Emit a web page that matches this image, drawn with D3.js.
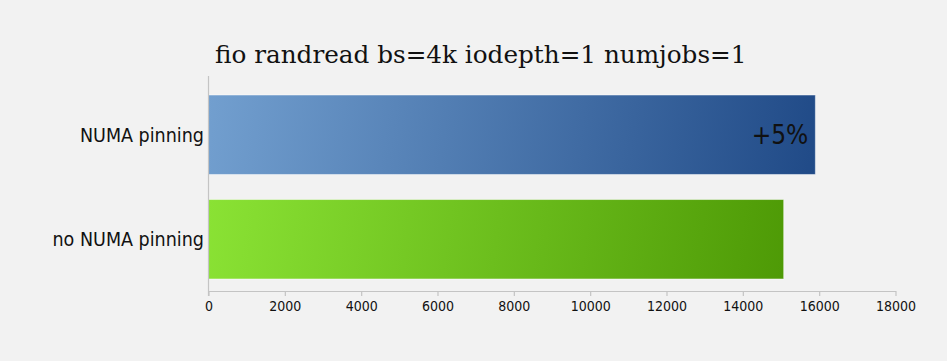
<!DOCTYPE html>
<html><head><meta charset="utf-8">
<script src="https://cdn.jsdelivr.net/npm/d3@7"></script>
<style>body{margin:0;background:#f2f2f2;} svg{display:block;}</style>
</head><body>
<svg id="chart" width="947" height="361"></svg>
<script>
const title = "fio randread bs=4k iodepth=1 numjobs=1";
const categories = ["NUMA pinning", "no NUMA pinning"];
const values = [15900, 15070];
const barLabels = ["+5%", ""];
const tickValues = [0, 2000, 4000, 6000, 8000, 10000, 12000, 14000, 16000, 18000];
const gradStops = [["#729fcf", "#204a87"], ["#8ae234", "#4e9a06"]];

const svg = d3.select("#chart");
svg.append("rect").attr("width", 947).attr("height", 361).attr("fill", "#f2f2f2");

const x = d3.scaleLinear().domain([0, 18000]).range([208.5, 895.5]);
const y = d3.scaleBand().domain(categories).range([83, 291]).paddingInner(0.24).paddingOuter(0.115);

const defs = svg.append("defs");
categories.forEach((c, i) => {
  const s = gradStops[i];
  const g = defs.append("linearGradient").attr("id", "g" + i)
    .attr("gradientUnits", "userSpaceOnUse")
    .attr("x1", x(0)).attr("y1", y(c)).attr("x2", x(values[i])).attr("y2", y(c) + y.bandwidth());
  g.append("stop").attr("offset", "0%").attr("stop-color", s[0]);
  g.append("stop").attr("offset", "100%").attr("stop-color", s[1]);
});

svg.append("text").attr("x", 215).attr("y", 63)
  .attr("font-family", "DejaVu Serif").attr("font-size", 24.7).attr("fill", "#111")
  .text(title);

// bars
svg.selectAll("rect.bar").data(categories).join("rect").attr("class", "bar")
  .attr("x", x(0)).attr("y", d => y(d))
  .attr("width", (d, i) => x(values[i]) - x(0)).attr("height", y.bandwidth())
  .attr("fill", (d, i) => `url(#g${i})`)
  .attr("stroke", "rgba(255,255,255,0.45)").attr("stroke-width", 1);

// bar labels
svg.selectAll("text.bl").data(categories).join("text").attr("class", "bl")
  .attr("x", (d, i) => x(values[i]) - 7).attr("y", d => y(d) + y.bandwidth() / 2 + 9)
  .attr("text-anchor", "end").attr("font-family", "DejaVu Sans Condensed").attr("font-size", 26)
  .attr("fill", "#111").text((d, i) => barLabels[i]);

// category labels
svg.selectAll("text.cat").data(categories).join("text").attr("class", "cat")
  .attr("x", 204).attr("y", d => y(d) + y.bandwidth() / 2 + 7)
  .attr("text-anchor", "end").attr("font-family", "DejaVu Sans Condensed").attr("font-size", 19.5)
  .attr("fill", "#111").text(d => d);

// y axis line
svg.append("line").attr("x1", x(0)).attr("x2", x(0)).attr("y1", 76).attr("y2", 296)
  .attr("stroke", "#c4c4c4").attr("stroke-width", 1.2);

// x axis
const xAxis = svg.append("g").attr("transform", "translate(0,291)")
  .call(d3.axisBottom(x).tickValues(tickValues).tickSize(5).tickSizeOuter(0).tickFormat(d3.format("d")));
xAxis.select(".domain").attr("stroke", "#c4c4c4").attr("stroke-width", 1.2);
xAxis.selectAll(".tick line").attr("stroke", "#c4c4c4").attr("stroke-width", 1.2);
xAxis.selectAll(".tick text").attr("font-family", "DejaVu Sans Condensed").attr("font-size", 14)
  .attr("fill", "#111").attr("dy", "0.85em");
</script>
</body></html>
